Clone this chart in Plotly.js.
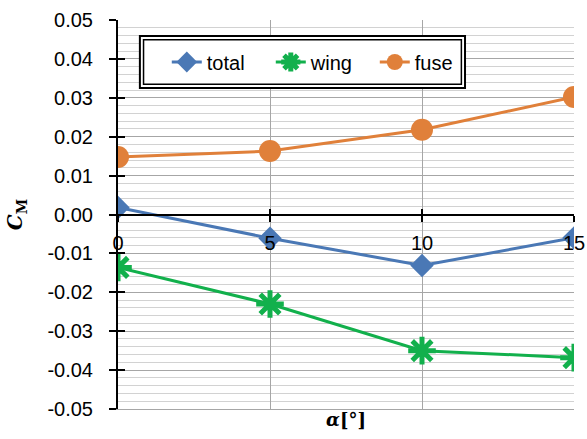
<!DOCTYPE html>
<html><head><meta charset="utf-8">
<script src="https://cdn.plot.ly/plotly-3.0.1.min.js"></script>
<style>html,body{margin:0;padding:0;background:#fff;}#chart{width:587px;height:439px;}</style>
</head><body><div id="chart"></div>
<script>
const alpha = [0, 5, 10, 15];
const total = [0.0018, -0.0061, -0.0131, -0.0060];
const wing = [-0.0136, -0.0230, -0.0350, -0.0368];
const fuse = [0.0148, 0.0163, 0.0218, 0.0302];
const yTickVals = [0.05, 0.04, 0.03, 0.02, 0.01, 0, -0.01, -0.02, -0.03, -0.04, -0.05];
const yTickText = ["0.05","0.04","0.03","0.02","0.01","0.00","-0.01","-0.02","-0.03","-0.04","-0.05"];
const xTickVals = [0, 5, 10, 15];
const xTickText = ["0", "5", "10", "15"];

const font = 'Liberation Sans, Arial, sans-serif';
const traces = [
  {x: alpha, y: total, name: 'total', mode: 'lines+markers', type: 'scatter',
   line: {color: '#4A78B5', width: 3}, marker: {symbol: 'diamond', size: 18, color: '#4A78B5'}},
  {x: alpha, y: wing, name: 'wing', mode: 'lines+markers', type: 'scatter',
   line: {color: '#12B04C', width: 3}, marker: {symbol: 'asterisk-open', size: 23, color: '#12B04C', line: {color: '#12B04C', width: 5}}},
  {x: alpha, y: fuse, name: 'fuse', mode: 'lines+markers', type: 'scatter',
   line: {color: '#E0803A', width: 3}, marker: {symbol: 'circle', size: 22, color: '#E0803A'}},
  // invisible helpers so the crossing tick axes get drawn
  {x: alpha, y: total, xaxis: 'x2', yaxis: 'y', mode: 'markers', marker: {opacity: 0}, showlegend: false, hoverinfo: 'skip'},
  {x: alpha, y: total, xaxis: 'x3', yaxis: 'y2', mode: 'markers', marker: {opacity: 0}, showlegend: false, hoverinfo: 'skip'}
];

const layout = {
  width: 587, height: 439,
  margin: {l: 118, r: 13, t: 20, b: 30},
  paper_bgcolor: '#fff', plot_bgcolor: '#fff',
  font: {family: font, size: 20, color: '#000'},
  showlegend: true,
  legend: {orientation: 'h', x: 0.107, y: 0.892, xanchor: 'left', yanchor: 'middle',
    bgcolor: 'rgba(0,0,0,0)', borderwidth: 0, entrywidth: 59,
    font: {family: font, size: 20, color: '#000'}},
  shapes: [
    {type: 'rect', xref: 'paper', yref: 'paper', x0: 0.048, x1: 0.761, y0: 0.825, y1: 0.959,
     line: {color: '#000', width: 2}, fillcolor: '#fff', layer: 'above'},
    {type: 'rect', xref: 'paper', yref: 'paper', x0: 0.056, x1: 0.753, y0: 0.835, y1: 0.949,
     line: {color: '#000', width: 1.5}, fillcolor: 'rgba(0,0,0,0)', layer: 'above'}
  ],
  xaxis: {range: [0, 15], showgrid: true, gridcolor: '#A6A6A6', gridwidth: 1,
    tickvals: xTickVals, showticklabels: false, ticks: '', zeroline: false,
    showline: true, linecolor: '#A6A6A6', linewidth: 1, mirror: false,
    title: {text: '<b><i>α</i>[°]</b>', font: {family: 'DejaVu Serif, serif', size: 18}, standoff: 4}},
  xaxis2: {range: [0, 15], overlaying: 'x', anchor: 'free', position: 0.5, side: 'bottom',
    showgrid: false, zeroline: false, showline: true, linecolor: '#000', linewidth: 2,
    tickvals: xTickVals, ticktext: xTickText, ticks: 'outside', ticklen: 6, tickwidth: 2, tickcolor: '#000',
    ticklabelstandoff: 4, tickfont: {family: font, size: 20, color: '#000'}},
  xaxis3: {range: [0, 15], overlaying: 'x', anchor: 'free', position: 0.5, side: 'bottom',
    showgrid: false, zeroline: false, showline: false, showticklabels: false,
    tickvals: xTickVals, ticks: 'inside', ticklen: 6, tickwidth: 2, tickcolor: '#000'},
  yaxis: {range: [-0.05, 0.05], tickvals: yTickVals, ticktext: yTickText,
    showgrid: true, gridcolor: '#A6A6A6', gridwidth: 1, zeroline: false,
    minor: {dtick: 0.002, showgrid: true, gridcolor: '#D2D2D2', gridwidth: 1},
    showline: true, linecolor: '#000', linewidth: 2,
    ticks: 'outside', ticklen: 7, tickwidth: 2, tickcolor: '#000', ticklabelstandoff: 12,
    tickfont: {family: font, size: 20, color: '#000'},
    title: {text: '<b><i>C</i><sub>M</sub></b>', font: {family: 'DejaVu Serif, serif', size: 20}, standoff: 19}},
  yaxis2: {range: [-0.05, 0.05], overlaying: 'y', side: 'left', anchor: 'x',
    tickvals: yTickVals, showticklabels: false, showgrid: false, zeroline: false, showline: false,
    ticks: 'inside', ticklen: 7, tickwidth: 2, tickcolor: '#000'}
};

Plotly.newPlot('chart', traces, layout, {displayModeBar: false, staticPlot: true});
</script></body></html>
